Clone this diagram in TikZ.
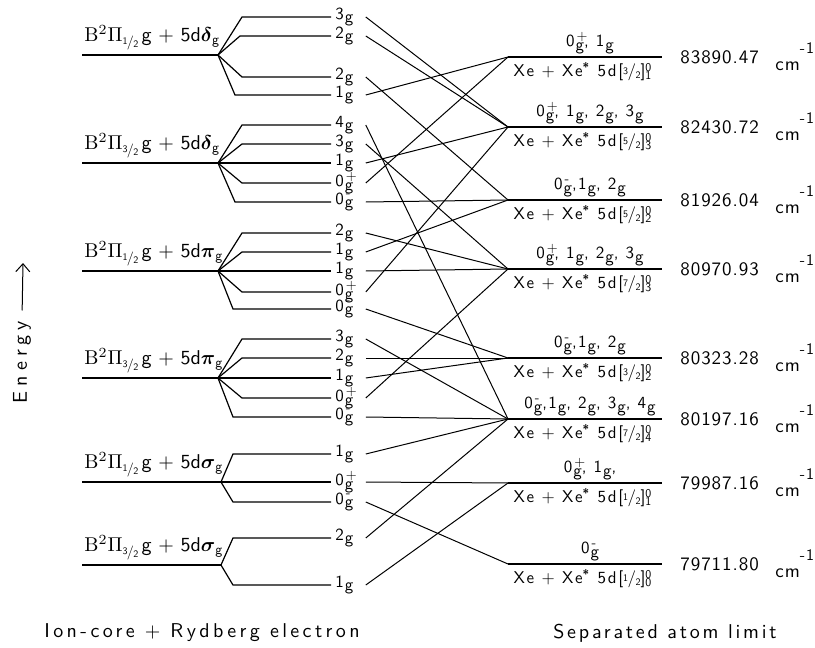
\documentclass[tikz,border=0pt]{standalone}
\usepackage{amsmath,bm}
\usepackage{fontspec}
\setsansfont{lmsans10-regular.otf}[BoldFont=lmsans10-bold.otf,ItalicFont=lmsans10-oblique.otf]
\usetikzlibrary{positioning,arrows.meta}
\newcommand{\fr}[2]{\raisebox{0.3ex}{\tiny #1}\kern-0.3pt/\kern-0.3pt\raisebox{-0.2ex}{\tiny #2}}
\newcommand{\gsub}{\kern0.5pt\raisebox{-0.45ex}{g}}
\newcommand{\lev}[1]{#1\gsub}
\newcommand{\levp}[2]{#1\rlap{\kern1pt\raisebox{0.85ex}{\scriptsize #2}}\gsub}
\newcommand{\core}[2]{{\rmfamily B}$^{2}\Pi$\raisebox{-0.5ex}{\scriptsize\fr{#1}{2}}\,g + 5d$\bm{#2}$\textsubscript{g}}
\tikzset{
    lvl/.style={line width=0.6pt},
    conn/.style={line width=0.5pt},
    corelab/.style={
        anchor=south west,
        inner sep=1pt,
        font=\sffamily\fontsize{10}{12}\selectfont
    },
    midlab/.style={
        anchor=west,
        inner sep=2pt,
        text width=13pt,
        font=\sffamily\fontsize{8.5}{9}\selectfont\addfontfeatures{LetterSpace=6}
    },
    uplab/.style={
        anchor=south,
        inner sep=1pt,
        font=\sffamily\fontsize{8.5}{9}\selectfont\addfontfeatures{LetterSpace=8}
    },
    lowlab/.style={
        anchor=north,
        inner sep=1pt,
        font=\sffamily\fontsize{8.5}{9}\selectfont\addfontfeatures{LetterSpace=10}
    },
    enlab/.style={
        anchor=west,
        inner sep=0pt,
        font=\sffamily\fontsize{9.5}{11}\selectfont\addfontfeatures{LetterSpace=5}
    },
    axlab/.style={
        inner sep=1pt,
        font=\sffamily\fontsize{10}{12}\selectfont\addfontfeatures{LetterSpace=14}
    },
    earr/.style={-{Straight Barb[length=4pt,width=7pt]},line width=0.5pt}
}
\begin{document}
\begin{tikzpicture}[x=0.5pt,y=-0.5pt]
\useasboundingbox (0,0) rectangle (815,648);

% separated atom limits (right)
\foreach \n/\y/\up/\jj/\kk/\e in {
  1/57/{\levp{0}{+}, \lev{1}}/3/1/83890.47,
  2/127/{\levp{0}{+}, \lev{1}, \lev{2}, \lev{3}}/5/3/82430.72,
  3/200/{\levp{0}{-},\lev{1}, \lev{2}}/5/2/81926.04,
  4/269/{\levp{0}{+}, \lev{1}, \lev{2}, \lev{3}}/7/3/80970.93,
  5/358/{\levp{0}{-},\lev{1}, \lev{2}}/3/2/80323.28,
  6/419/{\levp{0}{-},\lev{1}, \lev{2}, \lev{3}, \lev{4}}/7/4/80197.16,
  7/483/{\levp{0}{+}, \lev{1},}/1/1/79987.16,
  8/564/{\levp{0}{-}}/1/0/79711.80}
{
  \coordinate (r\n) at (508,\y);
  \coordinate (r\n e) at (662,\y);
  \draw[lvl] (r\n) -- (r\n e);
  \node[uplab] (up\n) at (590,\y-1) {\up};
  \node[lowlab] (lo\n) at (583,\y+3) {Xe + Xe\textsuperscript{\bfseries *} 5d[\fr{\jj}{2}]\rlap{\textsuperscript{0}}\textsubscript{\kk}};
  \node[enlab] (en\n) at (680,\y) {\e};
  \node[enlab] (cm\n) at (775,\y) {cm\raisebox{0.9em}{\footnotesize -1}};
}

% ion-core + Rydberg electron (left)
\foreach \n/\y/\sx/\fa/\orb in {
  1/55/218/1/\delta, 2/163/218/3/\delta,
  3/271/218/1/\pi, 4/378/218/3/\pi,
  5/482/221/1/\sigma, 6/565/221/3/\sigma}
{
  \coordinate (a\n) at (82,\y);
  \coordinate (c\n) at (\sx,\y);
  \draw[lvl] (a\n) -- (c\n);
  \node[corelab] (core\n) at (82,\y-3) {\core{\fa}{\orb}};
}

% splitting and correlation
\foreach \n/\c/\cx/\ym/\lab/\t in {
  1/c1/242/17/{\lev{3}}/r2,
  2/c1/240/36/{\lev{2}}/r2,
  3/c1/242/77/{\lev{2}}/r3,
  4/c1/235/95/{\lev{1}}/r1,
  5/c2/242/125/{\lev{4}}/r6,
  6/c2/242/144/{\lev{3}}/r4,
  7/c2/242/163/{\lev{1}}/r2,
  8/c2/242/183/{\levp{0}{+}}/r1,
  9/c2/235/202/{\levp{0}{-}}/r3,
  10/c3/242/233/{\lev{2}}/r4,
  11/c3/242/252/{\lev{1}}/r3,
  12/c3/242/271/{\lev{1}}/r4,
  13/c3/242/292/{\levp{0}{+}}/r2,
  14/c3/233/309/{\levp{0}{-}}/r5,
  15/c4/242/339/{\lev{3}}/r6,
  16/c4/242/358/{\lev{2}}/r5,
  17/c4/242/378/{\lev{1}}/r5,
  18/c4/242/398/{\levp{0}{+}}/r4,
  19/c4/233/417/{\levp{0}{-}}/r6,
  20/c5/233/454/{\lev{1}}/r6,
  21/c5/233/482/{\levp{0}{+}}/r7,
  22/c5/233/502/{\levp{0}{-}}/r8,
  23/c6/233/538/{\lev{2}}/r6,
  24/c6/233/585/{\lev{1}}/r7}
{
  \node[midlab] (m\n) at (331,\ym) {\lab};
  \draw[lvl] (\c) -- (\cx,\ym) -- (m\n.west);
  \draw[conn] (m\n.east) -- (\t);
}

% axis texts
\node[axlab,rotate=90,font=\sffamily\fontsize{10}{12}\selectfont\addfontfeatures{LetterSpace=25}] (energy) at (22,362) {Energy};
\coordinate (etop) at (23,263);
\draw[earr,shorten <=4pt] (energy.east) -- (etop);
\node[axlab,font=\sffamily\fontsize{10}{12}\selectfont\addfontfeatures{LetterSpace=17}] (ionlab) at (202,633) {Ion-core + Rydberg electron};
\node[axlab] (sepalab) at (665,633) {Separated atom limit};
\end{tikzpicture}
\end{document}
